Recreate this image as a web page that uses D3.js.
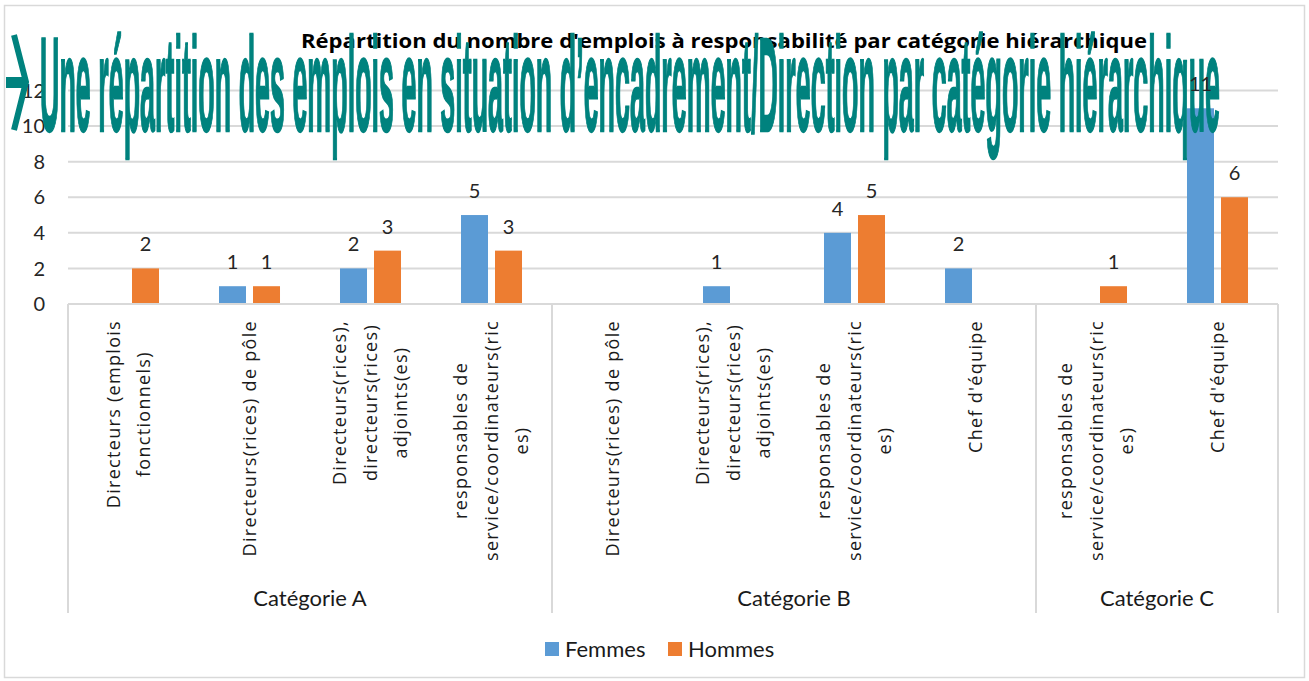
<!DOCTYPE html>
<html><head><meta charset="utf-8">
<script src="https://cdn.jsdelivr.net/npm/d3@7"></script>
<style>html,body{margin:0;padding:0;background:#fff;}svg{display:block;}</style>
</head><body>
<svg id="c" width="1309" height="681"></svg>
<script>
// ---- data ----
const items = [
  ["Directeurs (emplois","fonctionnels)"],
  ["Directeurs(rices) de pôle"],
  ["Directeurs(rices),","directeurs(rices)","adjoints(es)"],
  ["responsables de","service/coordinateurs(ric","es)"],
  ["Directeurs(rices) de pôle"],
  ["Directeurs(rices),","directeurs(rices)","adjoints(es)"],
  ["responsables de","service/coordinateurs(ric","es)"],
  ["Chef d'équipe"],
  ["responsables de","service/coordinateurs(ric","es)"],
  ["Chef d'équipe"]
];
const itemGroup = ["Catégorie A","Catégorie A","Catégorie A","Catégorie A",
                   "Catégorie B","Catégorie B","Catégorie B","Catégorie B",
                   "Catégorie C","Catégorie C"];
const groups = ["Catégorie A","Catégorie B","Catégorie C"];
const seriesNames = ["Femmes","Hommes"];
const femmes = [null,1,2,5, null,1,4,2, null,11];
const hommes = [2,1,3,3, null,null,5,null, 1,6];
const yTicks = [0,2,4,6,8,10,12];
const title = "Répartition du nombre d'emplois à responsabilité par catégorie hiérarchique";
const overlay = "Une répartition des emplois en situation d’encadrement/Direction par catégorie hiérarchique";

// ---- layout ----
const colors = {Femmes:"#5B9BD5", Hommes:"#ED7D31"};
const plotL = 68, plotR = 1278, baseY = 304, topY = 90.5, axisBottom = 613;
const svg = d3.select("#c");
const calib = "Lato, 'Open Sans', sans-serif";

svg.append("rect").attr("x",4.5).attr("y",5.5).attr("width",1300).attr("height",672)
  .attr("fill","#fff").attr("stroke","#d9d9d9").attr("stroke-width",1.5);

const x = d3.scaleBand().domain(d3.range(items.length)).range([plotL, plotR]).padding(0);
const xs = d3.scaleBand().domain(seriesNames).range([0, x.bandwidth()])
  .paddingInner(0.206).paddingOuter(0.882);
const y = d3.scaleLinear().domain([0,12]).range([baseY, topY]);

// gridlines
svg.append("g").selectAll("line").data(yTicks).join("line")
  .attr("x1",plotL).attr("x2",plotR).attr("y1",d=>y(d)).attr("y2",d=>y(d))
  .attr("stroke","#d9d9d9").attr("stroke-width",2);

// y labels
svg.append("g").selectAll("text").data(yTicks).join("text")
  .attr("x",45).attr("y",d=>y(d)).attr("dy","0.36em").attr("text-anchor","end")
  .attr("font-family",calib).attr("font-size",20).attr("fill","#262626").text(d=>d);

// bars
const series = seriesNames.map((s,si)=>({name:s, values:(si===0?femmes:hommes)}));
const barData = [];
series.forEach(s=>s.values.forEach((v,i)=>{ if(v!=null) barData.push({s:s.name,i,v}); }));
svg.append("g").selectAll("rect").data(barData).join("rect")
  .attr("x",d=>x(d.i)+xs(d.s)).attr("width",xs.bandwidth())
  .attr("y",d=>y(d.v)).attr("height",d=>y(0)-y(d.v))
  .attr("fill",d=>colors[d.s]);

// category axis lines
const sepX = [plotL];
groups.forEach(g=>{ const idx = itemGroup.lastIndexOf(g); sepX.push(x(idx)+x.bandwidth()); });
svg.append("line").attr("x1",plotL).attr("x2",plotR).attr("y1",baseY).attr("y2",baseY)
  .attr("stroke","#d9d9d9").attr("stroke-width",2);
svg.append("g").selectAll("line").data(sepX).join("line")
  .attr("x1",d=>d).attr("x2",d=>d).attr("y1",baseY).attr("y2",axisBottom)
  .attr("stroke","#d9d9d9").attr("stroke-width",2);

// item labels (rotated)
const lab = svg.append("g");
items.forEach((lines,i)=>{
  const cx = x(i)+x.bandwidth()/2;
  const n = lines.length, lh = 30.5;
  const g = lab.append("g");
  const texts = lines.map((t,k)=> g.append("text")
    .attr("font-family","'Open Sans', sans-serif").attr("font-size",18)
    .attr("letter-spacing","1.3px").attr("fill","#1a1a1a")
    .attr("text-anchor","middle").text(t));
  const maxLen = d3.max(texts, t=>t.node().getComputedTextLength());
  const cy = 320 + maxLen/2;
  texts.forEach((t,k)=>{
    const lx = cx + (k-(n-1)/2)*lh;
    t.attr("transform",`translate(${lx},${cy}) rotate(-90)`).attr("dy","0.35em");
  });
});

// group labels
svg.append("g").selectAll("text").data(groups).join("text")
  .attr("x",g=>{ const a = itemGroup.indexOf(g), b = itemGroup.lastIndexOf(g); return (x(a)+x(b)+x.bandwidth())/2; })
  .attr("y",606).attr("text-anchor","middle").attr("font-family",calib).attr("font-size",22)
  .attr("fill","#1a1a1a").text(g=>g);

// title
svg.append("text").attr("x",724).attr("y",48).attr("text-anchor","middle")
  .attr("font-family","'Open Sans', sans-serif").attr("font-weight","bold").attr("font-size",20)
  .attr("textLength",846).attr("lengthAdjust","spacingAndGlyphs")
  .attr("fill","#000").text(title);

// legend
const leg = svg.append("g");
const legX = [545, 668];
seriesNames.forEach((s,k)=>{
  leg.append("rect").attr("x",legX[k]).attr("y",642).attr("width",14).attr("height",14).attr("fill",colors[s]);
  leg.append("text").attr("x",legX[k]+20).attr("y",649).attr("dy","0.36em")
    .attr("font-family",calib).attr("font-size",22).attr("fill","#1a1a1a").text(s);
});

// overlay (teal)
const teal = "#00827E";
const ov = svg.append("g");
ov.append("rect").attr("x",6).attr("y",77).attr("width",19).attr("height",11).attr("fill",teal);
ov.append("path").attr("d","M14,35 L26,82 L14,130").attr("fill","none").attr("stroke",teal).attr("stroke-width",6);
ov.append("text").attr("x",40).attr("y",131)
  .attr("font-family","'Liberation Sans', Arial, sans-serif").attr("font-weight","bold").attr("font-size",134)
  .attr("textLength",1180).attr("lengthAdjust","spacingAndGlyphs")
  .attr("fill",teal).attr("stroke",teal).attr("stroke-width",2.5).text(overlay);

// data labels
svg.append("g").selectAll("text").data(barData).join("text")
  .attr("x",d=>x(d.i)+xs(d.s)+xs.bandwidth()/2).attr("y",d=>y(d.v)-17)
  .attr("text-anchor","middle").attr("font-family",calib).attr("font-size",20)
  .attr("fill","#262626").text(d=>d.v);
</script>
</body></html>
